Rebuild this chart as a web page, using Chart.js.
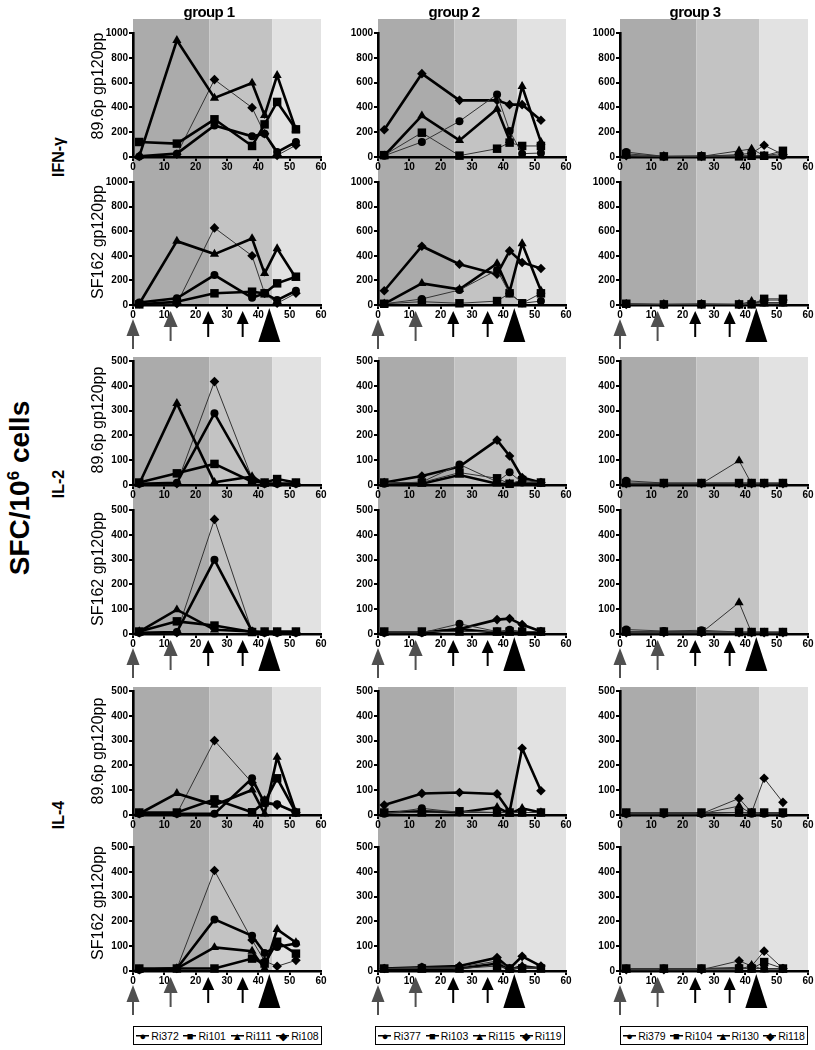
<!DOCTYPE html>
<html>
<head>
<meta charset="utf-8">
<script src="https://cdn.jsdelivr.net/npm/chart.js@4.4.1/dist/chart.umd.min.js"></script>
<style>
  body { margin: 0; background: #fff; font-family: Arial, "Liberation Sans", sans-serif; }
  #page { position: relative; width: 815px; height: 1050px; overflow: hidden; }
  #page canvas { position: absolute; }
  .lbl { position: absolute; white-space: nowrap; transform: translate(-50%, -50%); color: #000; }
  .rot { transform: translate(-50%, -50%) rotate(-90deg); }
  .legend { position: absolute; top: 1026px; height: 17px; border: 1.5px solid #000; background: #fff;
            display: flex; align-items: center; justify-content: space-around; font-size: 10.5px;
            white-space: nowrap; }
  .legend > span { flex: 0 0 auto; }
  .legend span.mk { display: inline-block; width: 13px; text-align: center; margin-right: 2px; font-size: 11px;
            background: linear-gradient(#000, #000) center / 100% 1.5px no-repeat; line-height: 11px; }
</style>
</head>
<body>
<div id="page"></div>
<script>
// ---- data -------------------------------------------------------------
const days = [2, 14, 26, 38, 42, 46, 52];
const xTicks = [0, 10, 20, 30, 40, 50, 60];
const ifnTicks = [0, 200, 400, 600, 800, 1000];
const ilTicks = [0, 100, 200, 300, 400, 500];

// study phases (shaded bands) and immunisation days (arrows)
const phaseEdges = [0, 24.4, 44.4, 60];
const primeDays = [0, 12];
const boostDays = [24, 35];
const challengeDay = 43.5;

const groupNames = ['group 1', 'group 2', 'group 3'];
const animals_g1 = ['Ri372', 'Ri101', 'Ri111', 'Ri108'];
const animals_g2 = ['Ri377', 'Ri103', 'Ri115', 'Ri119'];
const animals_g3 = ['Ri379', 'Ri104', 'Ri130', 'Ri118'];

// each panel: [circle, square, triangle, diamond] series, one value per day
const ifn896_g1 = [
  [5, 27, 255, 167, 188, 40, 121],
  [121, 108, 304, 89, 263, 444, 223],
  [5, 941, 476, 597, 336, 659, 220],
  [5, 22, 624, 398, 188, 13, 95]
];
const ifnSF_g1 = [
  [20, 54, 243, 59, 95, 40, 116],
  [5, 27, 95, 108, 95, 176, 230],
  [10, 519, 414, 541, 257, 459, 220],
  [10, 10, 627, 400, 95, 14, 95]
];
const il2896_g1 = [
  [5, 9, 289, 23, 5, 5, 5],
  [10, 47, 85, 13, 10, 24, 10],
  [5, 329, 11, 34, 5, 5, 5],
  [5, 5, 417, 27, 5, 5, 5]
];
const il2SF_g1 = [
  [5, 8, 299, 11, 5, 5, 5],
  [10, 51, 34, 8, 10, 10, 10],
  [10, 98, 17, 10, 5, 5, 5],
  [5, 5, 462, 10, 5, 5, 5]
];
const il4896_g1 = [
  [5, 5, 5, 148, 47, 43, 10],
  [10, 10, 63, 11, 51, 148, 10],
  [5, 87, 40, 101, 5, 233, 10],
  [5, 5, 300, 130, 60, 40, 10]
];
const il4SF_g1 = [
  [5, 10, 208, 142, 73, 97, 111],
  [10, 10, 10, 50, 30, 118, 70],
  [5, 10, 95, 80, 10, 168, 115],
  [5, 10, 405, 125, 40, 19, 43]
];

const ifn896_g2 = [
  [10, 121, 288, 505, 210, 27, 32],
  [15, 196, 11, 67, 116, 89, 89],
  [10, 333, 134, 387, 134, 570, 120],
  [220, 672, 457, 457, 422, 422, 296]
];
const ifnSF_g2 = [
  [10, 49, 122, 284, 95, 14, 32],
  [10, 27, 14, 32, 95, 14, 95],
  [10, 176, 127, 338, 108, 500, 116],
  [116, 478, 332, 250, 440, 346, 297]
];
const il2896_g2 = [
  [5, 12, 83, 13, 51, 10, 10],
  [10, 10, 50, 27, 5, 20, 10],
  [5, 5, 40, 5, 5, 10, 5],
  [10, 36, 74, 181, 117, 30, 10]
];
const il2SF_g2 = [
  [5, 5, 41, 10, 17, 10, 10],
  [10, 10, 10, 10, 10, 10, 10],
  [5, 5, 20, 5, 5, 5, 5],
  [5, 5, 20, 58, 62, 38, 10]
];
const il4896_g2 = [
  [5, 27, 10, 10, 10, 10, 10],
  [10, 10, 15, 10, 10, 10, 10],
  [10, 15, 10, 31, 5, 27, 10],
  [40, 87, 91, 85, 13, 269, 98]
];
const il4SF_g2 = [
  [10, 15, 15, 40, 10, 15, 15],
  [10, 10, 10, 20, 10, 10, 10],
  [5, 5, 10, 30, 5, 20, 10],
  [10, 15, 20, 54, 10, 59, 20]
];

const ifn896_g3 = [
  [40, 5, 10, 10, 10, 10, 10],
  [25, 5, 5, 5, 10, 10, 50],
  [10, 5, 5, 50, 65, 10, 30],
  [10, 5, 5, 20, 30, 95, 20]
];
const ifnSF_g3 = [
  [10, 5, 10, 5, 10, 20, 20],
  [10, 5, 5, 5, 5, 50, 50],
  [5, 5, 5, 5, 30, 10, 10],
  [5, 5, 5, 5, 10, 40, 40]
];
const il2896_g3 = [
  [17, 8, 8, 8, 8, 8, 8],
  [8, 8, 8, 8, 8, 8, 8],
  [5, 5, 5, 98, 5, 5, 5],
  [5, 5, 5, 5, 5, 5, 5]
];
const il2SF_g3 = [
  [18, 12, 15, 8, 8, 8, 8],
  [10, 10, 10, 8, 8, 8, 8],
  [5, 5, 5, 127, 5, 5, 5],
  [5, 5, 5, 5, 5, 5, 5]
];
const il4896_g3 = [
  [5, 5, 5, 10, 5, 5, 5],
  [10, 10, 10, 10, 10, 10, 10],
  [5, 5, 5, 36, 5, 5, 5],
  [5, 5, 5, 67, 10, 148, 51]
];
const il4SF_g3 = [
  [10, 10, 10, 15, 10, 10, 10],
  [10, 10, 10, 10, 10, 36, 10],
  [5, 5, 5, 5, 23, 5, 5],
  [5, 5, 5, 41, 20, 80, 10]
];

// ---- styles / layout ---------------------------------------------------
const MARKERS = ['circle', 'rect', 'triangle', 'rectRot'];
const MARKER_R = [4, 6, 5.3, 4.8];
const THICK = [
  [true, true, true, false],
  [false, false, true, true],
  [false, false, false, false]
];
const BAND_COLORS = ['#ababab', '#c3c3c3', '#e2e2e2'];
const FONT = 'Arial, "Liberation Sans", sans-serif';
const Y_W = 40, PAD_R = 10, ARROW_ROOM = 48;

const COLS = [{ l: 133, r: 321 }, { l: 378, r: 566 }, { l: 620, r: 808 }];
const BLOCKS = [
  { label: 'IFN-\u03b3', labelY: 157, shadeTop: 18, up: [33, 157], split: 175, low: [182, 305], ticks: ifnTicks,
    panels: [[ifn896_g1, ifnSF_g1], [ifn896_g2, ifnSF_g2], [ifn896_g3, ifnSF_g3]], titleY: [86, 242] },
  { label: 'IL-2', labelY: 484, shadeTop: 357, up: [361, 485], split: 503, low: [510, 634], ticks: ilTicks,
    panels: [[il2896_g1, il2SF_g1], [il2896_g2, il2SF_g2], [il2896_g3, il2SF_g3]], titleY: [420, 569] },
  { label: 'IL-4', labelY: 815, shadeTop: 687, up: [691, 815], split: 838, low: [847, 971], ticks: ilTicks,
    panels: [[il4896_g1, il4SF_g1], [il4896_g2, il4SF_g2], [il4896_g3, il4SF_g3]], titleY: [751, 903] }
];
const ANIMALS = [animals_g1, animals_g2, animals_g3];

// ---- plugins ------------------------------------------------------------
const bandPlugin = {
  id: 'bands',
  beforeDraw(chart, args, o) {
    const { ctx, chartArea, scales: { x } } = chart;
    const top = o.from;
    const bottom = o.toCanvasEnd ? chart.height : chartArea.bottom;
    ctx.save();
    for (let i = 0; i < BAND_COLORS.length; i++) {
      const x0 = x.getPixelForValue(phaseEdges[i]);
      const x1 = x.getPixelForValue(phaseEdges[i + 1]);
      ctx.fillStyle = BAND_COLORS[i];
      ctx.fillRect(x0, top, x1 - x0, bottom - top);
    }
    ctx.restore();
  }
};

function arrow(ctx, px, y0, tip, headH, headW, tail, color, shaftW) {
  ctx.fillStyle = color;
  ctx.strokeStyle = color;
  ctx.lineWidth = shaftW;
  ctx.beginPath();
  ctx.moveTo(px, y0 + tip + headH - 1);
  ctx.lineTo(px, y0 + tail);
  ctx.stroke();
  ctx.beginPath();
  ctx.moveTo(px, y0 + tip);
  ctx.lineTo(px - headW / 2, y0 + tip + headH);
  ctx.lineTo(px + headW / 2, y0 + tip + headH);
  ctx.closePath();
  ctx.fill();
}

const arrowPlugin = {
  id: 'arrows',
  afterDraw(chart, args, o) {
    if (!o.show) return;
    const { ctx, chartArea, scales: { x } } = chart;
    const y0 = chartArea.bottom;
    ctx.save();
    arrow(ctx, x.getPixelForValue(primeDays[0]), y0, 14, 17, 13, 44, '#505050', 2);
    arrow(ctx, x.getPixelForValue(primeDays[1]), y0, 6, 16, 14, 36, '#505050', 2);
    boostDays.forEach(d => arrow(ctx, x.getPixelForValue(d), y0, 6, 13, 12, 32, '#000', 2));
    arrow(ctx, x.getPixelForValue(challengeDay), y0, 3, 34, 22, 34, '#000', 0);
    ctx.restore();
  }
};

// ---- build ----------------------------------------------------------------
const page = document.getElementById('page');

function addLabel(html, x, y, css, rotated) {
  const d = document.createElement('div');
  d.className = 'lbl' + (rotated ? ' rot' : '');
  d.style.left = x + 'px';
  d.style.top = y + 'px';
  d.style.cssText += css;
  d.innerHTML = html;
  page.appendChild(d);
}

function panel(g, blk, lower, series) {
  const col = COLS[g];
  const [T, B] = lower ? blk.low : blk.up;
  const top = lower ? blk.split : T - 14;
  const bottom = lower ? B + ARROW_ROOM : blk.split;
  const c = document.createElement('canvas');
  c.width = col.r - col.l + Y_W + PAD_R;
  c.height = bottom - top;
  c.style.left = (col.l - Y_W) + 'px';
  c.style.top = top + 'px';
  page.appendChild(c);

  const yTicks = blk.ticks;
  new Chart(c, {
    type: 'line',
    data: {
      datasets: series.map((vals, i) => ({
        label: ANIMALS[g][i],
        data: days.map((d, k) => ({ x: d, y: vals[k] })),
        borderColor: THICK[g][i] ? '#000' : '#333',
        borderWidth: THICK[g][i] ? 2.6 : 1,
        pointStyle: MARKERS[i],
        pointRadius: MARKER_R[i],
        pointBackgroundColor: '#000',
        pointBorderWidth: 0,
        tension: 0,
        clip: false
      }))
    },
    options: {
      responsive: false,
      animation: false,
      events: [],
      layout: { padding: { top: T - top, right: PAD_R, bottom: 0, left: 0 } },
      plugins: {
        legend: { display: false },
        tooltip: { enabled: false },
        bands: { from: lower ? 0 : blk.shadeTop - top, toCanvasEnd: !lower },
        arrows: { show: lower }
      },
      scales: {
        x: {
          type: 'linear',
          min: xTicks[0],
          max: xTicks[xTicks.length - 1],
          afterFit: s => { s.height = bottom - B; },
          afterBuildTicks: s => { s.ticks = xTicks.map(v => ({ value: v })); },
          ticks: { padding: 0, color: '#000', maxRotation: 0, callback: v => String(v),
                   font: { family: FONT, weight: 'bold', size: 10 } },
          grid: { drawOnChartArea: false, drawTicks: true, tickLength: 4, color: '#000', lineWidth: 2 },
          border: { color: '#000', width: 2.6 }
        },
        y: {
          min: yTicks[0],
          max: yTicks[yTicks.length - 1],
          afterFit: s => { s.width = Y_W; },
          afterBuildTicks: s => { s.ticks = yTicks.map(v => ({ value: v })); },
          ticks: { padding: 1, color: '#000', callback: v => String(v),
                   font: { family: FONT, weight: 'bold', size: 10 } },
          grid: { drawOnChartArea: false, drawTicks: true, tickLength: 4, color: '#000', lineWidth: 2 },
          border: { color: '#000', width: 2.6 }
        }
      }
    },
    plugins: [bandPlugin, arrowPlugin]
  });
}

BLOCKS.forEach(blk => {
  for (let g = 0; g < 3; g++) {
    panel(g, blk, false, blk.panels[g][0]);
    panel(g, blk, true, blk.panels[g][1]);
  }
  addLabel(blk.label, 59, blk.labelY, 'font: bold 16px ' + FONT + ';', true);
  addLabel('89.6p gp120pp', 98, blk.titleY[0], 'font: 16px ' + FONT + ';', true);
  addLabel('SF162 gp120pp', 98, blk.titleY[1], 'font: 16px ' + FONT + ';', true);
});

const titleX = [209, 454, 695];
groupNames.forEach((n, g) => addLabel(n, titleX[g], 11, 'font: bold 15px ' + FONT + '; letter-spacing: -0.6px;', false));

addLabel('SFC/10<sup style="font-size:17px">6</sup> cells', 20, 488, 'font: bold 28px ' + FONT + ';', true);

// legends
const GLYPHS = ['\u25cf', '\u25a0', '\u25b2', '\u25c6'];
const legendX = [[133, 323], [375, 566], [620, 809]];
ANIMALS.forEach((names, g) => {
  const box = document.createElement('div');
  box.className = 'legend';
  box.style.left = legendX[g][0] + 'px';
  box.style.width = (legendX[g][1] - legendX[g][0] - 3) + 'px';
  box.innerHTML = names.map((n, i) => '<span><span class="mk">' + GLYPHS[i] + '</span>' + n + '</span>').join('');
  page.appendChild(box);
});
</script>
</body>
</html>
